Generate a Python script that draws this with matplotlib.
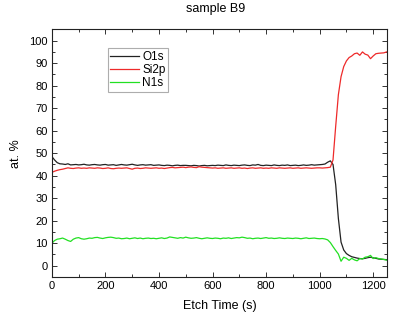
import numpy as np
import matplotlib
matplotlib.use("Agg")
import matplotlib.pyplot as plt
from matplotlib.ticker import MultipleLocator

plt.rcParams['font.family'] = ['Liberation Sans', 'DejaVu Sans']

etch_time = np.arange(0, 1251, 10)

o1s = [48.5, 47.0, 45.8, 45.3, 45.2, 45.0, 45.3, 44.8, 44.9, 45.0,
       44.8, 44.9, 45.1, 44.8, 44.7, 44.9, 45.0, 44.8, 44.7, 44.9,
       45.0, 44.7, 44.8, 44.9, 44.6, 44.8, 45.0, 44.8, 44.7, 44.9,
       45.1, 44.8, 44.6, 44.8, 44.9, 44.7, 44.8, 44.9, 44.6, 44.7,
       44.8, 44.6, 44.5, 44.7, 44.6, 44.4, 44.6, 44.7, 44.5, 44.6,
       44.6, 44.5, 44.4, 44.6, 44.5, 44.3, 44.5, 44.6, 44.4, 44.5,
       44.6, 44.5, 44.7, 44.6, 44.5, 44.8, 44.6, 44.5, 44.7, 44.6,
       44.5, 44.7, 44.8, 44.6, 44.5, 44.8, 44.7, 45.0, 44.6, 44.5,
       44.7, 44.6, 44.5, 44.8, 44.6, 44.5, 44.7, 44.6, 44.8, 44.5,
       44.6, 44.7, 44.5, 44.6, 44.8, 44.6, 44.7, 44.9, 44.7, 44.8,
       44.9, 45.0, 45.2, 46.0, 46.6, 45.0, 36.0, 21.0, 10.5, 7.0,
       5.4, 4.6, 4.0, 3.7, 3.4, 3.2, 3.1, 3.3, 3.6, 3.8,
       3.5, 3.3, 3.0, 2.9, 2.8, 2.7]

si2p = [41.5, 42.0, 42.4, 42.7, 42.9, 43.2, 43.5, 43.3, 43.2, 43.4,
        43.5, 43.3, 43.4, 43.3, 43.5, 43.4, 43.3, 43.5, 43.4, 43.2,
        43.3, 43.5, 43.2, 43.1, 43.3, 43.4, 43.3, 43.4, 43.5, 43.2,
        42.9, 43.3, 43.4, 43.2, 43.3, 43.5, 43.4, 43.3, 43.4, 43.5,
        43.3, 43.4, 43.2, 43.4, 43.6, 43.7, 43.5, 43.6, 43.7, 43.8,
        43.6, 43.8, 43.9, 43.7, 43.6, 44.0, 43.8, 43.7, 43.6, 43.5,
        43.4, 43.5, 43.3, 43.4, 43.5, 43.3, 43.4, 43.5, 43.3, 43.4,
        43.5, 43.3, 43.4, 43.2, 43.4, 43.5, 43.3, 43.4, 43.5, 43.3,
        43.4, 43.3, 43.5, 43.4, 43.3, 43.5, 43.4, 43.3, 43.4, 43.5,
        43.3, 43.4, 43.5, 43.3, 43.4, 43.5, 43.4, 43.3, 43.4, 43.5,
        43.5, 43.4, 43.5, 43.6, 43.8, 47.0, 62.0, 76.0, 84.0, 88.5,
        91.0, 92.5, 93.2, 94.2, 94.5, 93.5, 95.0, 94.0, 93.6, 92.0,
        93.2, 94.2, 94.4, 94.5, 94.6, 95.0]

n1s = [10.0, 11.2, 11.8, 12.0, 12.3, 11.8, 11.2, 10.8, 11.8, 12.3,
       12.5, 12.0, 11.8, 12.0, 12.3, 12.2, 12.5, 12.6, 12.3, 12.1,
       12.4, 12.6, 12.7, 12.5, 12.2, 12.3, 12.0, 12.1, 12.3, 12.0,
       12.2, 12.4, 12.1, 12.3, 12.0, 12.2, 12.3, 12.1, 12.2, 12.0,
       12.2, 12.4, 12.1, 12.3, 12.8, 12.6, 12.4, 12.2, 12.5, 12.3,
       12.7, 12.4, 12.2, 12.3, 12.5, 12.2, 12.0, 12.2, 12.4, 12.2,
       12.1, 12.3, 12.2, 12.0, 12.3, 12.2, 12.4, 12.1, 12.3, 12.5,
       12.4, 12.7, 12.5, 12.2, 12.3, 12.0, 12.2, 12.3, 12.1, 12.3,
       12.5, 12.2, 12.3, 12.1, 12.2, 12.4, 12.2, 12.1, 12.3, 12.2,
       12.1, 12.3, 12.2, 12.0, 12.2, 12.4, 12.1, 12.2, 12.3, 12.1,
       12.0, 12.1, 11.9, 11.5, 10.3, 8.5, 6.8, 5.2, 2.0, 3.8,
       3.3, 2.4, 3.3, 2.6, 2.2, 3.2, 3.0, 3.8, 4.0, 4.6,
       3.2, 3.6, 3.2, 3.0, 2.8, 2.5]

series_names = ['O1s', 'Si2p', 'N1s']
series_colors = ['#222222', '#ee2a2a', '#22e022']

fig = plt.figure(figsize=(3.93, 3.13), dpi=100)
ax = fig.add_axes([0.132, 0.115, 0.853, 0.791])

for vals, name, col in zip([o1s, si2p, n1s], series_names, series_colors):
    ax.plot(etch_time, vals, color=col, lw=0.9, label=name)

ax.set_xlim(0, 1252)
ax.set_ylim(-5, 105)
ax.set_xticks([0, 200, 400, 600, 800, 1000, 1200])
ax.set_yticks(range(0, 101, 10))
ax.xaxis.set_minor_locator(MultipleLocator(100))
ax.yaxis.set_minor_locator(MultipleLocator(5))
ax.tick_params(which='both', direction='in', top=True, right=True,
               labelsize=8, color='#333333', width=0.7, pad=3)
ax.tick_params(which='major', length=3.5)
ax.tick_params(which='minor', length=2)
for s in ax.spines.values():
    s.set_linewidth(0.8)
    s.set_color('#222222')

ax.set_xlabel('Etch Time (s)', fontsize=9, labelpad=6)
ax.set_ylabel('at. %', fontsize=9, labelpad=5)
fig.text(0.548, 0.99, 'sample B9', ha='center', va='top', fontsize=9)

leg = ax.legend(loc='upper left', bbox_to_anchor=(0.167, 0.923), borderaxespad=0,
                fontsize=8.5, frameon=True, fancybox=False, handlelength=2.4,
                handletextpad=0.3, labelspacing=0.1, borderpad=0.2)
leg.get_frame().set_edgecolor('#999999')
leg.get_frame().set_linewidth(0.8)

fig.savefig('out.png', dpi=100)
